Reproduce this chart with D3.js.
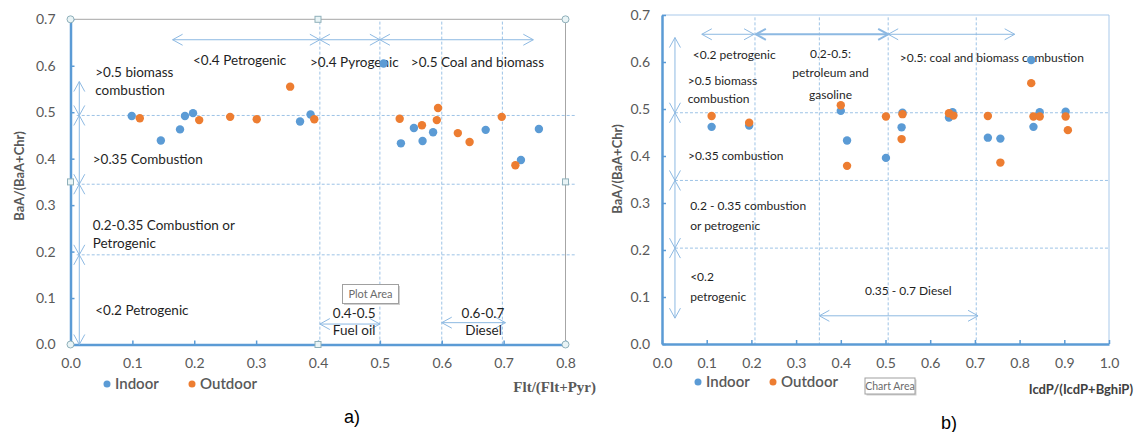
<!DOCTYPE html>
<html>
<head>
<meta charset="utf-8">
<script src="https://cdn.jsdelivr.net/npm/d3@7"></script>
<style>
  body { margin: 0; background: #fff; }
  svg { display: block; font-family: Lato, "Open Sans", sans-serif; }
</style>
</head>
<body>
<svg id="chart"></svg>
<script>
// Data: chart a) Flt/(Flt+Pyr) vs BaA/(BaA+Chr)
const aIndoor = [
  [0.099, 0.492], [0.146, 0.439], [0.177, 0.463], [0.185, 0.492], [0.198, 0.498],
  [0.371, 0.480], [0.388, 0.495], [0.506, 0.605], [0.534, 0.433], [0.555, 0.466],
  [0.569, 0.438], [0.586, 0.457], [0.671, 0.462], [0.728, 0.397], [0.757, 0.464]
];
const aOutdoor = [
  [0.112, 0.487], [0.208, 0.483], [0.258, 0.490], [0.301, 0.485], [0.355, 0.555],
  [0.394, 0.485], [0.532, 0.486], [0.568, 0.472], [0.592, 0.483], [0.594, 0.509],
  [0.626, 0.455], [0.645, 0.436], [0.697, 0.490], [0.719, 0.386]
];
// Data: chart b) IcdP/(IcdP+BghiP) vs BaA/(BaA+Chr)
const bIndoor = [
  [0.111, 0.462], [0.195, 0.465], [0.400, 0.496], [0.414, 0.433], [0.501, 0.396],
  [0.536, 0.461], [0.538, 0.492], [0.642, 0.482], [0.650, 0.493], [0.729, 0.439],
  [0.757, 0.437], [0.826, 0.604], [0.831, 0.462], [0.845, 0.493], [0.903, 0.494]
];
const bOutdoor = [
  [0.111, 0.485], [0.195, 0.471], [0.400, 0.508], [0.414, 0.379], [0.501, 0.484],
  [0.538, 0.489], [0.536, 0.436], [0.642, 0.491], [0.652, 0.486], [0.729, 0.485],
  [0.757, 0.386], [0.826, 0.555], [0.831, 0.484], [0.845, 0.484], [0.903, 0.484],
  [0.908, 0.455]
];

// Axis ticks
const aXTicks = [0, 0.1, 0.2, 0.3, 0.4, 0.5, 0.6, 0.7, 0.8];
const bXTicks = [0, 0.1, 0.2, 0.3, 0.4, 0.5, 0.6, 0.7, 0.8, 0.9, 1.0];
const yTicks = [0, 0.1, 0.2, 0.3, 0.4, 0.5, 0.6, 0.7];

// Threshold lines drawn on the charts
const aHLines = [0.493, 0.345, 0.193];
const aVLines = [0.403, 0.5, 0.6, 0.698];
const bHLines = [0.492, 0.348, 0.204];
const bVLines = [0.208, 0.352, 0.506, 0.703];

const series = ["Indoor", "Outdoor"];
const colors = { Indoor: "#5b9bd5", Outdoor: "#ed7d31" };

const W = 1138, H = 432;
const svg = d3.select("#chart").attr("width", W).attr("height", H);
svg.append("rect").attr("width", W).attr("height", H).attr("fill", "#fff");

const arrowColor = "#8db9e2";
const dashColor = "#9dc3e6";
const tickColor = "#595959";

// double headed arrow with open chevron heads
function arrow(g, x1, y1, x2, y2, w) {
  const dx = x2 - x1, dy = y2 - y1, len = Math.hypot(dx, dy);
  const ux = dx / len, uy = dy / len, px = -uy, py = ux;
  const hl = 10, hw = 5.5;
  const a = g.append("g").attr("stroke", arrowColor).attr("stroke-width", w || 1).attr("fill", "none");
  a.append("line").attr("x1", x1).attr("y1", y1).attr("x2", x2).attr("y2", y2);
  a.append("path").attr("d", `M${x1 + ux * hl + px * hw},${y1 + uy * hl + py * hw}L${x1},${y1}L${x1 + ux * hl - px * hw},${y1 + uy * hl - py * hw}`);
  a.append("path").attr("d", `M${x2 - ux * hl + px * hw},${y2 - uy * hl + py * hw}L${x2},${y2}L${x2 - ux * hl - px * hw},${y2 - uy * hl - py * hw}`);
}

function drawChart(cfg) {
  const { x, y, xTicks, hLines, vLines, hRange, indoor, outdoor } = cfg;
  const g = svg.append("g");

  // frame (top and right)
  g.append("path")
    .attr("d", `M${x.range()[0]},${y(0.7)}H${x.range()[1]}V${y(0)}`)
    .attr("fill", "none").attr("stroke", cfg.frameColor).attr("stroke-width", 1);

  // threshold lines
  g.selectAll(".hl").data(hLines).join("line")
    .attr("x1", x(hRange[0])).attr("x2", x(hRange[1]))
    .attr("y1", d => y(d)).attr("y2", d => y(d))
    .attr("stroke", dashColor).attr("stroke-dasharray", "3,2");
  g.selectAll(".vl").data(vLines).join("line")
    .attr("x1", d => x(d)).attr("x2", d => x(d))
    .attr("y1", y(0.695)).attr("y2", y(0))
    .attr("stroke", dashColor).attr("stroke-dasharray", "3,2");

  // axes
  const yAxis = g.append("g")
    .attr("transform", `translate(${x.range()[0]},0)`)
    .call(d3.axisLeft(y).tickValues(yTicks).tickFormat(d3.format(".1f"))
      .tickSizeInner(-4).tickSizeOuter(0).tickPadding(cfg.yPad));
  const xAxis = g.append("g")
    .attr("transform", `translate(0,${y(0)})`)
    .call(d3.axisBottom(x).tickValues(xTicks).tickFormat(d3.format(".1f"))
      .tickSizeInner(-4).tickSizeOuter(0).tickPadding(14));
  [xAxis, yAxis].forEach(ax => {
    ax.select(".domain").attr("stroke", "#5b9bd5").attr("stroke-width", 2.5);
    ax.selectAll(".tick line").attr("stroke", "#5b9bd5").attr("stroke-width", 1.5);
    ax.selectAll(".tick text").attr("fill", tickColor).style("font-size", "14px")
      .style("font-family", "Lato, sans-serif");
  });

  // arrows
  cfg.arrows.forEach(r => arrow(g, x(r[0]), y(r[1]), x(r[2]), y(r[3]), r[4]));

  // annotation labels
  g.selectAll(".ann").data(cfg.labels).join("text")
    .attr("x", d => x(d[1])).attr("y", d => y(d[2]))
    .attr("dy", "0.35em")
    .attr("text-anchor", d => d[3] || "start")
    .attr("fill", "#1f1f1f")
    .style("font-size", cfg.annSize + "px")
    .text(d => d[0]);

  // points
  g.selectAll(".pi").data(indoor).join("circle")
    .attr("cx", d => x(d[0])).attr("cy", d => y(d[1])).attr("r", 4.2)
    .attr("fill", colors.Indoor);
  g.selectAll(".po").data(outdoor).join("circle")
    .attr("cx", d => x(d[0])).attr("cy", d => y(d[1])).attr("r", 4.2)
    .attr("fill", colors.Outdoor);

  // legend
  const lg = g.append("g").attr("transform", `translate(${cfg.legend[0]},${cfg.legend[1]})`);
  series.forEach((s, i) => {
    const it = lg.append("g").attr("transform", `translate(${i * cfg.legendStep},0)`);
    it.append("circle").attr("r", 3.5).attr("fill", colors[s]);
    it.append("text").attr("x", 8).attr("dy", "0.35em").attr("fill", tickColor)
      .style("font-size", "15px").style("font-weight", 600).text(s);
  });

  return g;
}

// ---- chart a ----
const xA = d3.scaleLinear().domain([0, 0.8]).range([70.5, 565.5]);
const yA = d3.scaleLinear().domain([0, 0.7]).range([344.5, 19.3]);
const gA = drawChart({
  x: xA, y: yA, xTicks: aXTicks, hLines: aHLines, vLines: aVLines, hRange: [0.01, 0.815],
  indoor: aIndoor, outdoor: aOutdoor, frameColor: "#a6a6a6", yPad: 15,
  legend: [107, 384], legendStep: 85, annSize: 13.5,
  arrows: [
    [0.165, 0.656, 0.403, 0.656, 1], [0.403, 0.656, 0.5, 0.656, 1], [0.5, 0.656, 0.748, 0.656, 1],
    [0.0142, 0.566, 0.0142, 0.493, 1], [0.0142, 0.493, 0.0142, 0.345, 1],
    [0.0142, 0.345, 0.0142, 0.193, 1], [0.0142, 0.193, 0.0142, 0, 1],
    [0.403, 0.044, 0.5, 0.044, 1], [0.6, 0.047, 0.703, 0.047, 1]
  ],
  labels: [
    ["<0.4 Petrogenic", 0.198, 0.612], [">0.4 Pyrogenic", 0.387, 0.608],
    [">0.5 Coal and biomass", 0.550, 0.608], [">0.5 biomass", 0.040, 0.587],
    ["combustion", 0.040, 0.548], [">0.35 Combustion", 0.036, 0.399],
    ["0.2-0.35 Combustion or", 0.036, 0.257], ["Petrogenic", 0.036, 0.218],
    ["<0.2 Petrogenic", 0.040, 0.074], ["0.4-0.5", 0.424, 0.068],
    ["Fuel oil", 0.424, 0.030], ["0.6-0.7", 0.632, 0.068], ["Diesel", 0.638, 0.030]
  ]
});

// selection handles of the plot area
const hx = [xA(0), xA(0.4), xA(0.8)], hy = [yA(0.7), yA(0.35), yA(0)];
hx.forEach((px, i) => hy.forEach((py, j) => {
  if (i === 1 && j === 1) return;
  if (i !== 1 && j !== 1) {
    gA.append("circle").attr("cx", px).attr("cy", py).attr("r", 3.5)
      .attr("fill", "#e9f4f6").attr("stroke", "#8fb0ba");
  } else {
    gA.append("rect").attr("x", px - 3).attr("y", py - 3).attr("width", 6).attr("height", 6)
      .attr("fill", "#e9f4f6").attr("stroke", "#8fb0ba");
  }
}));

// axis titles a
gA.append("text").attr("transform", `translate(19,176) rotate(-90)`)
  .attr("text-anchor", "middle").attr("dy", "0.35em").attr("fill", "#595959")
  .style("font-size", "13px").style("font-weight", 700).text("BaA/(BaA+Chr)");
gA.append("text").attr("x", 596).attr("y", 387).attr("dy", "0.35em")
  .attr("text-anchor", "end").attr("fill", "#595959")
  .style("font-family", "'Liberation Serif', 'DejaVu Serif', serif").style("font-size", "15px")
  .style("font-weight", 700).text("Flt/(Flt+Pyr)");
gA.append("text").attr("x", 352).attr("y", 417).attr("dy", "0.35em")
  .attr("text-anchor", "middle").attr("fill", "#000")
  .style("font-family", "'Liberation Sans', Arial, sans-serif").style("font-size", "18px").text("a)");

// "Plot Area" hover box
const pa = gA.append("g");
pa.append("rect").attr("x", 344).attr("y", 286).attr("width", 56).attr("height", 19).attr("fill", "#cfcfcf");
pa.append("rect").attr("x", 342.5).attr("y", 284.5).attr("width", 56).attr("height", 19)
  .attr("fill", "#fff").attr("stroke", "#a0a0a0");
pa.append("text").attr("x", 370.5).attr("y", 294).attr("dy", "0.35em").attr("text-anchor", "middle")
  .attr("fill", "#6b6b6b").style("font-size", "11px").text("Plot Area");

// ---- chart b ----
const xB = d3.scaleLinear().domain([0, 1]).range([662, 1109]);
const yB = d3.scaleLinear().domain([0, 0.7]).range([344, 15]);
const gB = drawChart({
  x: xB, y: yB, xTicks: bXTicks, hLines: bHLines, vLines: bVLines, hRange: [0.029, 1],
  indoor: bIndoor, outdoor: bOutdoor, frameColor: "#a9c9ea", yPad: 12,
  legend: [698, 382], legendStep: 75, annSize: 12,
  arrows: [
    [0.089, 0.659, 0.206, 0.659, 1], [0.21, 0.659, 0.506, 0.659, 2], [0.506, 0.659, 0.789, 0.659, 1],
    [0.029, 0.652, 0.029, 0.492, 1], [0.029, 0.492, 0.029, 0.348, 1],
    [0.029, 0.348, 0.029, 0.204, 1], [0.029, 0.204, 0.029, 0.055, 1],
    [0.352, 0.060, 0.707, 0.060, 1]
  ],
  labels: [
    ["<0.2 petrogenic", 0.069, 0.616], ["0.2-0.5:", 0.377, 0.617, "middle"],
    ["petroleum and", 0.377, 0.576, "middle"], ["gasoline", 0.377, 0.531, "middle"],
    [">0.5: coal and biomass combustion", 0.532, 0.610],
    [">0.5 biomass", 0.0575, 0.560], ["combustion", 0.0575, 0.521],
    [">0.35 combustion", 0.058, 0.401], ["0.2 - 0.35 combustion", 0.063, 0.294],
    ["or petrogenic", 0.063, 0.252], ["<0.2", 0.063, 0.142], ["petrogenic", 0.063, 0.101],
    ["0.35 - 0.7 Diesel", 0.454, 0.113]
  ]
});

// axis titles b
gB.append("text").attr("transform", `translate(617,169) rotate(-90)`)
  .attr("text-anchor", "middle").attr("dy", "0.35em").attr("fill", "#595959")
  .style("font-size", "13px").style("font-weight", 700).text("BaA/(BaA+Chr)");
gB.append("text").attr("x", 1133).attr("y", 389).attr("dy", "0.35em")
  .attr("text-anchor", "end").attr("fill", "#404040")
  .style("font-size", "13px").style("font-weight", 700).text("IcdP/(IcdP+BghiP)");
gB.append("text").attr("x", 949).attr("y", 423).attr("dy", "0.35em")
  .attr("text-anchor", "middle").attr("fill", "#000")
  .style("font-family", "'Liberation Sans', Arial, sans-serif").style("font-size", "18px").text("b)");

// "Chart Area" hover box
const ca = gB.append("g");
ca.append("rect").attr("x", 866.5).attr("y", 379.5).attr("width", 50).attr("height", 16).attr("fill", "#cfcfcf");
ca.append("rect").attr("x", 865).attr("y", 378).attr("width", 50).attr("height", 16)
  .attr("fill", "#fff").attr("stroke", "#a0a0a0");
ca.append("text").attr("x", 890).attr("y", 386).attr("dy", "0.35em").attr("text-anchor", "middle")
  .attr("fill", "#6b6b6b").style("font-size", "10.5px").text("Chart Area");
</script>
</body>
</html>
